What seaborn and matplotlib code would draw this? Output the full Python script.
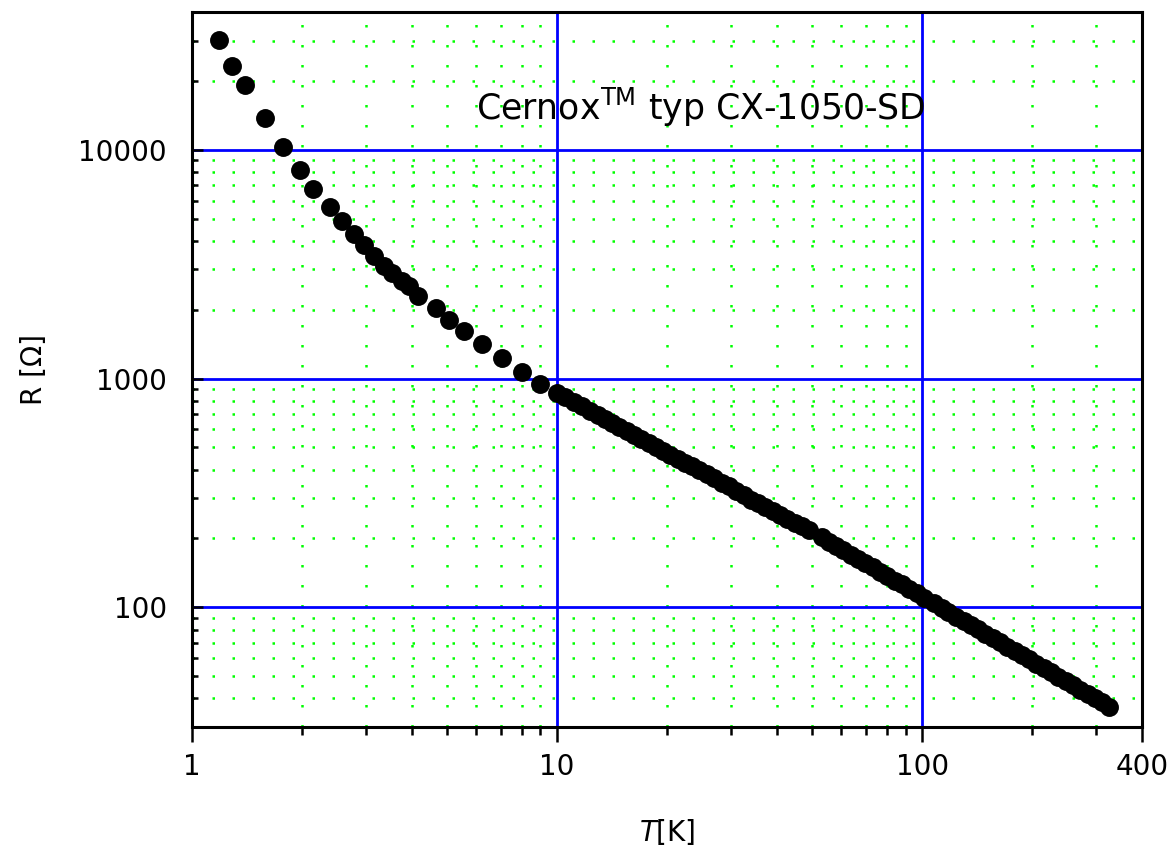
"""Cernox CX-1050-SD resistance vs temperature (log-log)."""

import matplotlib

matplotlib.use("Agg")
import matplotlib.pyplot as plt
import pandas as pd
import seaborn as sns
from matplotlib.ticker import FixedLocator, NullFormatter

# temperatures [K]
temp_k = [
    1.185, 1.286, 1.395, 1.58, 1.78, 1.98, 2.15, 2.38, 2.58, 2.77,
    2.96, 3.16, 3.36, 3.54, 3.76, 3.93, 4.16, 4.66, 5.05, 5.55,
    6.23, 7.05, 8.0, 9.0, 10.0,
    10.5, 11.1, 11.7, 12.3, 12.9, 13.5, 14.1, 14.8, 15.5, 16.2,
    17.0, 17.8, 18.6, 19.5, 20.4, 21.4, 22.4, 23.4, 24.5, 25.7,
    26.9, 28.2, 29.5, 30.9, 32.4, 33.9, 35.5, 37.2, 39.0, 40.8,
    42.7, 44.7, 46.8, 49.0, 53.0, 55.5, 58.1, 60.8, 63.7, 66.7,
    69.8, 73.1, 76.6, 80.2, 84.0, 88.0, 92.1, 96.5, 101, 108,
    113, 118, 124, 130, 136, 142, 149, 156, 163, 171,
    179, 187, 196, 205, 215, 225, 236, 247, 259, 271,
    284, 297, 311, 325,
]
# resistance [Ohm]
resist_ohm = [
    30200, 23200, 19200, 13800, 10300, 8180, 6760, 5650, 4860, 4270,
    3820, 3420, 3090, 2880, 2660, 2530, 2290, 2030, 1800, 1610,
    1410, 1230, 1070, 946, 865,
    829, 790, 755, 722, 693, 666, 641, 615, 591, 568,
    545, 524, 504, 484, 465, 446, 429, 413, 397, 381,
    366, 351, 338, 324, 311, 296, 285, 274, 263, 253,
    244, 234, 226, 217, 203, 194, 186, 178, 170, 163,
    156, 150, 143, 137, 131, 126, 120, 115, 110, 104,
    99, 95, 91, 87, 83.5, 80.2, 76.7, 73.4, 70.5, 67.3,
    64.5, 61.9, 59.2, 56.8, 54.3, 52.0, 49.8, 47.7, 45.6, 43.7,
    41.8, 40.1, 38.4, 36.8,
]

x_major = [1, 10, 100, 400]
x_major_labels = ["1", "10", "100", "400"]
x_minor = [2, 3, 4, 5, 6, 7, 8, 9, 20, 30, 40, 50, 60, 70, 80, 90, 200, 300]
y_major = [100, 1000, 10000]
y_major_labels = ["100", "1000", "10000"]
y_minor = [30, 40, 50, 60, 70, 80, 90,
           200, 300, 400, 500, 600, 700, 800, 900,
           2000, 3000, 4000, 5000, 6000, 7000, 8000, 9000,
           20000, 30000]

sns.set_style("white")
plt.rcParams["font.family"] = ["DejaVu Sans"]
plt.rcParams["text.color"] = "black"
plt.rcParams["axes.labelcolor"] = "black"
plt.rcParams["xtick.color"] = "black"
plt.rcParams["ytick.color"] = "black"

df = pd.DataFrame({"T": temp_k, "R": resist_ohm})

fig = plt.figure(figsize=(11.68, 8.47), dpi=100)
ax = fig.add_axes([0.1644, 0.1417, 0.8134, 0.8441])
ax.set_xscale("log")
ax.set_yscale("log")

sns.scatterplot(data=df, x="T", y="R", ax=ax, color="black", s=185,
                linewidth=0, zorder=3)

ax.set_xlim(1, 400)
ax.set_ylim(30, 40000)

ax.xaxis.set_major_locator(FixedLocator(x_major))
ax.set_xticklabels(x_major_labels)
ax.xaxis.set_minor_locator(FixedLocator(x_minor))
ax.xaxis.set_minor_formatter(NullFormatter())
ax.yaxis.set_major_locator(FixedLocator(y_major))
ax.set_yticklabels(y_major_labels)
ax.yaxis.set_minor_locator(FixedLocator(y_minor))
ax.yaxis.set_minor_formatter(NullFormatter())

ax.set_axisbelow(True)
ax.grid(which="major", color="#0000ff", linewidth=2.0, linestyle="-")
ax.grid(which="minor", color="#00ff00", linewidth=1.8, linestyle=(0, (1, 7)))

for sp in ax.spines.values():
    sp.set_color("black")
    sp.set_linewidth(2.2)
    sp.set_visible(True)
    sp.set_zorder(4)

ax.tick_params(axis="x", which="major", direction="out", length=11, width=1.8,
               labelsize=20, pad=8, bottom=True)
ax.tick_params(axis="x", which="minor", direction="out", length=6, width=1.8,
               bottom=True)
ax.tick_params(axis="y", which="major", direction="in", length=8, width=1.8,
               labelsize=20, pad=18, left=True)
ax.tick_params(axis="y", which="minor", direction="in", length=4, width=1.8,
               left=True)

ax.set_xlabel("$T$[K]", fontsize=20, labelpad=26)
ax.set_ylabel("R [Ω]", fontsize=20, labelpad=22)

ax.text(0.535, 0.867, r"Cernox$^{\mathrm{TM}}$ typ CX-1050-SD",
        transform=ax.transAxes, ha="center", va="center", fontsize=25)

plt.savefig("out.png", dpi=100)
plt.close()
